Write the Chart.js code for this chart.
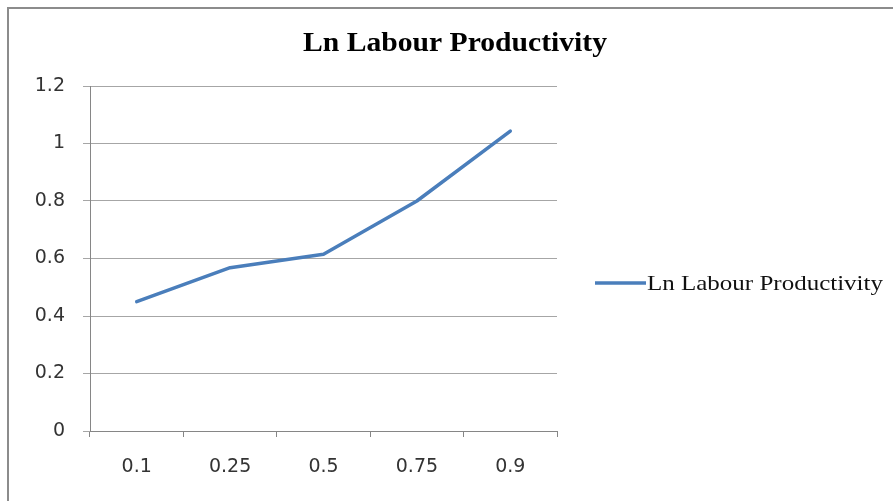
<!DOCTYPE html>
<html>
<head>
<meta charset="utf-8">
<script src="https://cdn.jsdelivr.net/npm/chart.js@4/dist/chart.umd.min.js"></script>
<style>
  html, body { margin: 0; padding: 0; background: #ffffff; }
  canvas { display: block; }
</style>
</head>
<body>
<canvas id="chart" width="893" height="501"></canvas>
<script>
// Quantiles along the x axis
const categories = ['0.1', '0.25', '0.5', '0.75', '0.9'];
// Ln labour productivity at each quantile
const productivity = [0.45, 0.568, 0.615, 0.80, 1.043];
// Value axis labels, bottom to top
const yTickLabels = ['0', '0.2', '0.4', '0.6', '0.8', '1', '1.2'];

const chartTitle = 'Ln Labour Productivity';
const seriesName = 'Ln Labour Productivity';
const lineColor = '#4a7ebb';

// Title, legend and outer frame drawn on the canvas
const decorations = {
  id: 'decorations',
  beforeDraw(chart) {
    const ctx = chart.ctx;
    ctx.save();
    ctx.fillStyle = '#ffffff';
    ctx.fillRect(0, 0, chart.width, chart.height);
    ctx.strokeStyle = '#8c8c8c';
    ctx.lineWidth = 2;
    ctx.strokeRect(8, 8, chart.width + 20, chart.height + 20);
    ctx.restore();
  },
  afterDraw(chart) {
    const ctx = chart.ctx;
    ctx.save();
    // title, condensed to its box width
    ctx.fillStyle = '#000000';
    ctx.font = 'bold 28px "Liberation Serif", "Times New Roman", serif';
    ctx.textAlign = 'center';
    ctx.textBaseline = 'alphabetic';
    const tw = ctx.measureText(chartTitle).width;
    ctx.translate(455, 51);
    ctx.scale(304 / tw, 1);
    ctx.fillText(chartTitle, 0, 0);
    ctx.restore();

    // legend entry
    const ds = chart.data.datasets[0];
    ctx.save();
    ctx.strokeStyle = ds.borderColor;
    ctx.lineWidth = 3.5;
    ctx.beginPath();
    ctx.moveTo(595, 283);
    ctx.lineTo(646, 283);
    ctx.stroke();
    ctx.fillStyle = '#111111';
    ctx.font = '21px "Liberation Serif", "Times New Roman", serif';
    ctx.textAlign = 'left';
    ctx.textBaseline = 'alphabetic';
    const lw = ctx.measureText(ds.label).width;
    ctx.translate(647, 290);
    ctx.scale(236 / lw, 1);
    ctx.fillText(ds.label, 0, 0);
    ctx.restore();
  }
};

const plotLeft = 90, plotRight = 557, plotTop = 86, plotBottom = 431;
const padLeft = 10, padBottom = 10;
const tickFont = { family: '"DejaVu Sans", Verdana, sans-serif', size: 19 };

new Chart(document.getElementById('chart'), {
  type: 'line',
  data: {
    labels: categories,
    datasets: [{
      label: seriesName,
      data: productivity,
      borderColor: lineColor,
      backgroundColor: lineColor,
      borderWidth: 3.5,
      pointRadius: 0,
      tension: 0,
      fill: false,
      borderCapStyle: 'round',
      borderJoinStyle: 'round'
    }]
  },
  options: {
    responsive: false,
    devicePixelRatio: 1,
    animation: false,
    events: [],
    layout: {
      padding: { left: padLeft, top: plotTop, right: 893 - plotRight, bottom: padBottom }
    },
    plugins: {
      legend: { display: false },
      title: { display: false },
      tooltip: { enabled: false }
    },
    scales: {
      x: {
        type: 'category',
        offset: true,
        afterFit(scale) { scale.height = 501 - plotBottom - padBottom; },
        grid: {
          offset: true,
          drawOnChartArea: false,
          drawTicks: true,
          tickLength: 6,
          color: '#868686'
        },
        border: { display: true, color: '#868686', width: 1 },
        ticks: {
          color: '#333333',
          padding: 19,
          maxRotation: 0,
          font: tickFont
        }
      },
      y: {
        min: 0,
        max: 1.2,
        afterFit(scale) { scale.width = plotLeft - padLeft; },
        afterBuildTicks(scale) {
          scale.ticks = yTickLabels.map(t => ({ value: parseFloat(t) }));
        },
        grid: {
          color: '#a6a6a6',
          lineWidth: 1,
          drawTicks: true,
          tickLength: 7
        },
        border: { display: true, color: '#868686', width: 1 },
        ticks: {
          color: '#333333',
          padding: 18,
          callback: (v, i) => yTickLabels[i],
          font: tickFont
        }
      }
    }
  },
  plugins: [decorations]
});
</script>
</body>
</html>
